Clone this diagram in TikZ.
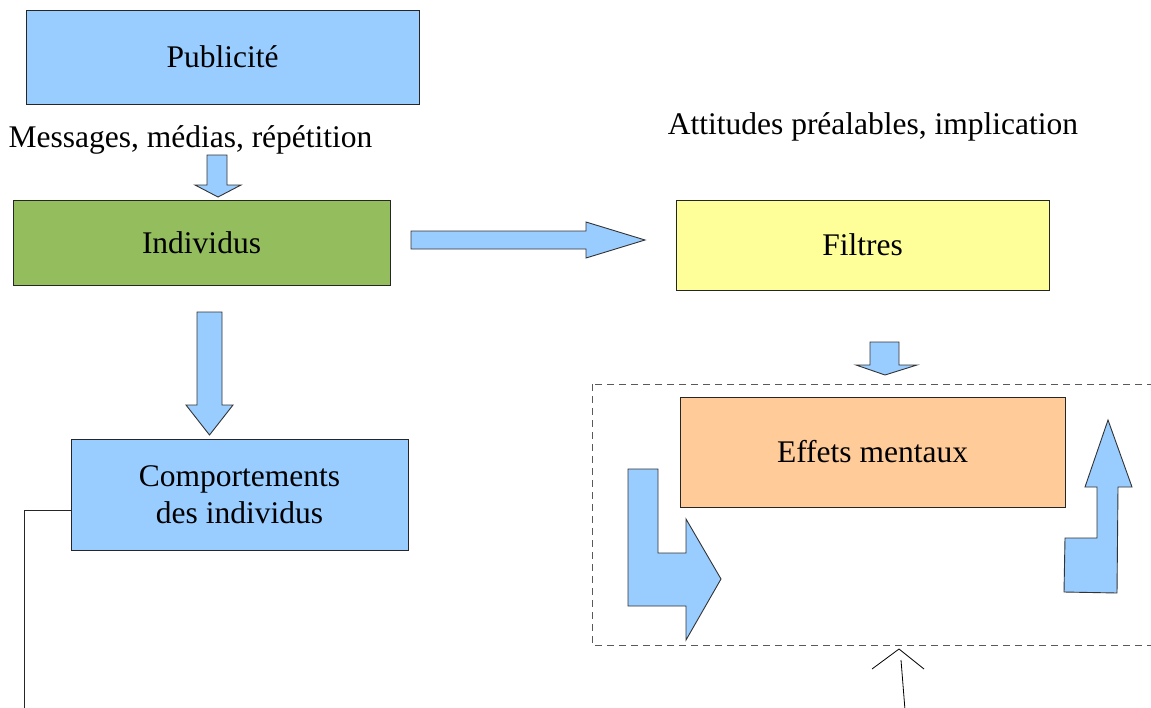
\documentclass[tikz,border=0pt]{standalone}
\usepackage{fontspec}
\setmainfont{Liberation Serif}
\begin{document}
\begin{tikzpicture}[x=1pt,y=-1pt,
  every node/.style={font=\fontsize{31.5}{37}\selectfont, text=black},
  box/.style={draw=black!85, line width=0.9pt, inner sep=0pt, outer sep=0pt, align=center},
  blockarrow/.style={draw=black!80, line width=0.9pt, fill=arrowblue, line join=miter},
  label/.style={inner sep=0pt}
]
\definecolor{arrowblue}{HTML}{99CCFF}
\definecolor{boxblue}{HTML}{99CCFF}
\definecolor{boxgreen}{HTML}{94BD5E}
\definecolor{boxyellow}{HTML}{FFFF99}
\definecolor{boxorange}{HTML}{FFCC99}
\useasboundingbox (0,0) rectangle (1151,707);

% boxes
\node[box, fill=boxblue, minimum width=393pt, minimum height=94pt] (pub) at (222.5,57) {Publicité};
\node[box, fill=boxgreen, minimum width=377pt, minimum height=85pt] (ind) at (201.5,242.5) {Individus};
\node[box, fill=boxblue, minimum width=337pt, minimum height=111pt] (comp) at (239.5,494.5) {Comportements\\[0pt]des individus};
\node[box, fill=boxorange, minimum width=385pt, minimum height=110pt] (eff) at (872.5,452) {Effets mentaux};
\node[box, fill=boxyellow, minimum width=373pt, minimum height=90pt] (fil) at (862.5,245) {Filtres};

% free labels
\node[label] (msg) at (190.5,140) {Messages, médias, répétition};
\node[label] (att) at (873,127) {Attitudes préalables, implication};

% dashed frame (runs past the right edge)
\begin{scope}
\clip (0,0) rectangle (1151,707);
\draw[black!65, line width=0.9pt, dash pattern=on 7pt off 5pt] (592,384) rectangle (1170,645);
\end{scope}

% block arrows
\draw[blockarrow] (207,155) -- (227,155) -- (227,185) -- (241,185) -- (218,197) -- (195,185) -- (207,185) -- cycle;
\draw[blockarrow] (411,231) -- (586,231) -- (586,222) -- (645,240) -- (586,258) -- (586,249) -- (411,249) -- cycle;
\draw[blockarrow] (197,312) -- (222,312) -- (222,405) -- (233,405) -- (209.5,435) -- (186,405) -- (197,405) -- cycle;
\draw[blockarrow] (870,342) -- (899,342) -- (899,365) -- (917,365) -- (885,375) -- (856,365) -- (870,365) -- cycle;
% bent arrow going down then right
\draw[blockarrow] (628,469) -- (658,469) -- (658,553) -- (686,553) -- (686,519) -- (721,579) -- (686,640) -- (686,606) -- (628,606) -- cycle;
% bent arrow going right then up
\draw[blockarrow] (1064,592) -- (1117,593) -- (1118,487) -- (1132,487) -- (1108,420) -- (1085,487) -- (1097,487) -- (1097,538) -- (1065,538) -- cycle;

% feedback line leaving the behaviour box
\coordinate (fbcorner) at (24,510);
\coordinate (fbend) at (24,710);
\draw[black!85, line width=0.9pt] (comp.west |- fbcorner) -- (fbcorner) -- (fbend);

% open arrow pointing at the dashed frame
\coordinate (tip) at (899,649);
\coordinate (armL) at (872,669);
\coordinate (armR) at (924,669);
\coordinate (shafttop) at (901,660);
\coordinate (shaftend) at (905,710);
\draw[black, line width=0.8pt] (armL) -- (tip) -- (armR);
\draw[black, line width=0.8pt] (shafttop) -- (shaftend);
\end{tikzpicture}
\end{document}
